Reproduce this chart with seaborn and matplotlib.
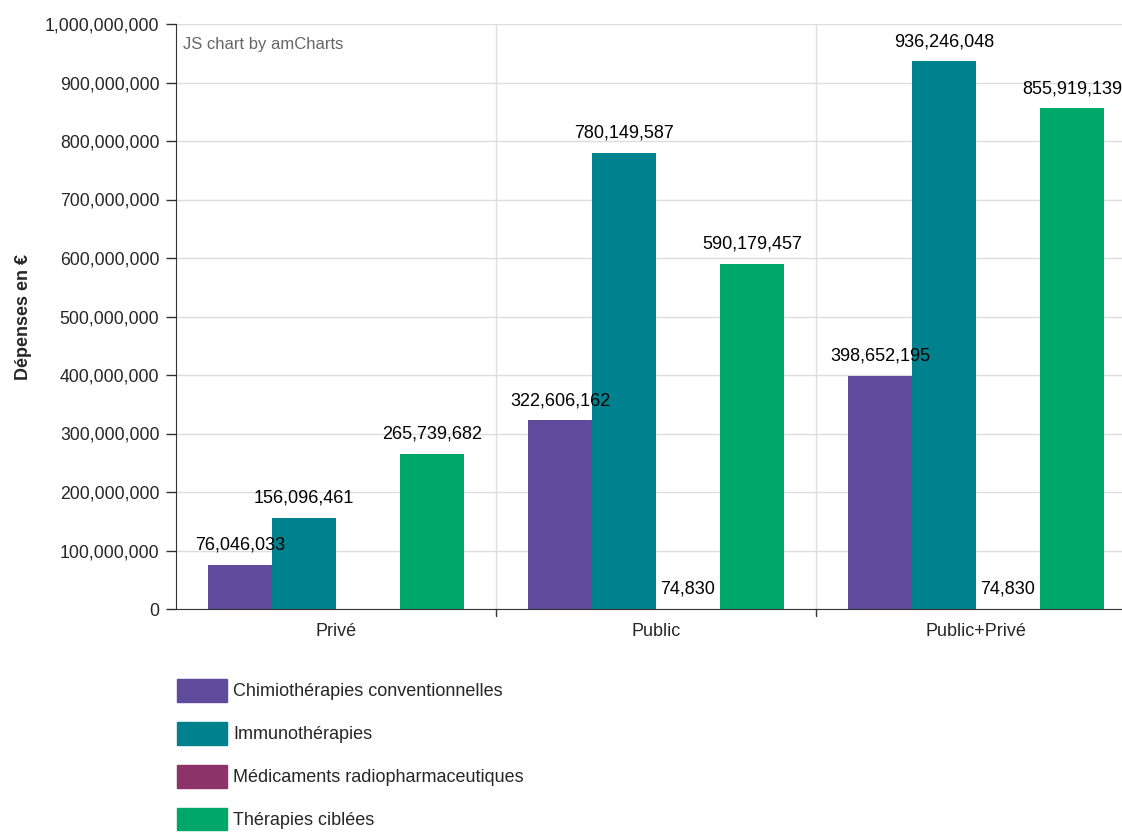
import pandas as pd
import matplotlib.pyplot as plt
import matplotlib.patches as mpatches
from matplotlib.ticker import FuncFormatter
import seaborn as sns

# data
secteurs = ['Privé', 'Public', 'Public+Privé']
classes = ['Chimiothérapies conventionnelles', 'Immunothérapies',
           'Médicaments radiopharmaceutiques', 'Thérapies ciblées']
chimio = [76046033, 322606162, 398652195]
immuno = [156096461, 780149587, 936246048]
radio = [0, 74830, 74830]
ciblees = [265739682, 590179457, 855919139]
couleurs = ['#5f4b9b', '#00828e', '#8e336a', '#00a76b']

rows = []
for cl, vals in zip(classes, [chimio, immuno, radio, ciblees]):
    for s, v in zip(secteurs, vals):
        rows.append({'secteur': s, 'classe': cl, 'depenses': v})
df = pd.DataFrame(rows)

sns.set_style('white')
plt.rcParams['font.family'] = ['Liberation Sans', 'DejaVu Sans']

fig = plt.figure(figsize=(11.22, 8.32), dpi=100)
# plot area runs a little past the right edge, as in the original
ax = fig.add_axes([176 / 1122, 1 - 609 / 832, 960 / 1122, 585 / 832])

sns.barplot(data=df, x='secteur', y='depenses', hue='classe',
            order=secteurs, hue_order=classes,
            palette=dict(zip(classes, couleurs)),
            width=0.8, gap=0, saturation=1, linewidth=0,
            legend=False, ax=ax)

for cont, cl in zip(ax.containers, classes):
    vals = df[df.classe == cl].set_index('secteur').loc[secteurs, 'depenses']
    labs = ['{:,}'.format(v) if v > 0 else '' for v in vals]
    ax.bar_label(cont, labels=labs, padding=8, fontsize=13, color='black')

ax.set_ylim(0, 1e9)
ax.set_xlim(-0.5, 2.5)
ax.set_yticks(range(0, 1000000001, 100000000))
ax.yaxis.set_major_formatter(FuncFormatter(lambda v, p: '{:,}'.format(int(v))))
ax.set_xticks([0, 1, 2])
ax.set_xticklabels(secteurs, fontsize=13)
ax.tick_params(axis='x', length=0, pad=10)
ax.tick_params(axis='y', labelsize=12.7, length=7, width=1, direction='out',
               left=True, color='#333333', pad=5)
ax.set_xlabel('')
ax.set_ylabel('Dépenses en €', fontsize=13, fontweight='bold', labelpad=9)

ax.grid(axis='y', color='#dddddd', linewidth=1)
ax.set_axisbelow(True)
for b in [0.5, 1.5]:
    ax.axvline(b, color='#dddddd', linewidth=1, zorder=0)
    ax.plot([b, b], [0, -0.012], color='#333333', linewidth=1,
            transform=ax.get_xaxis_transform(), clip_on=False)

for side in ['top', 'right']:
    ax.spines[side].set_visible(False)
ax.spines['left'].set_color('#333333')
ax.spines['bottom'].set_color('#333333')

ax.text(0.007, 0.978, 'JS chart by amCharts', transform=ax.transAxes,
        fontsize=12, color='#666666', va='top')

handles = [mpatches.Patch(facecolor=c, edgecolor=c, label=l)
           for c, l in zip(couleurs, classes)]
fig.legend(handles=handles, loc='upper left',
           bbox_to_anchor=(161 / 1122, 1 - 663 / 832),
           frameon=False, fontsize=13, handlelength=2.75, handleheight=1.55,
           labelspacing=1.12, handletextpad=0.35)

fig.savefig('out.png', dpi=100)
